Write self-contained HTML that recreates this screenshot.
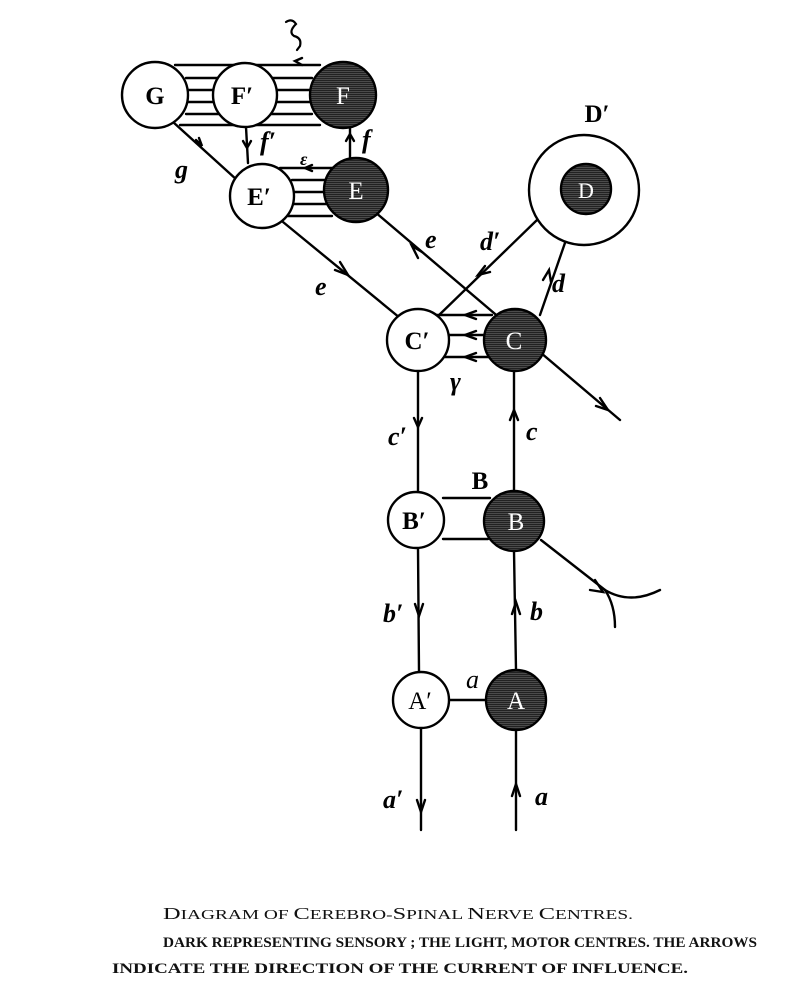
<!DOCTYPE html>
<html><head><meta charset="utf-8"><style>
html,body{margin:0;padding:0;background:#fff;}
svg{display:block;}
</style></head><body>
<svg width="788" height="1000" viewBox="0 0 788 1000" xmlns="http://www.w3.org/2000/svg">
<defs>
<pattern id="h" width="4" height="2" patternUnits="userSpaceOnUse">
<rect width="4" height="2" fill="#222"/><rect y="1" width="4" height="0.6" fill="#666"/>
</pattern>
</defs>
<g stroke="#000" stroke-width="2.4" fill="none" stroke-linecap="round">
<line x1="175" y1="65" x2="320" y2="65"/>
<line x1="186" y1="78" x2="312" y2="78"/>
<line x1="188" y1="90" x2="312" y2="90"/>
<line x1="188" y1="102" x2="312" y2="102"/>
<line x1="186" y1="114" x2="312" y2="114"/>
<line x1="180" y1="125" x2="320" y2="125"/>
<path d="M302 58 L295 61 L302 65"/>
<line x1="246" y1="127" x2="248" y2="163"/>
<path d="M243 141 L247 148 L251 141"/>
<line x1="350" y1="158" x2="350" y2="128"/>
<path d="M346 141 L350 134 L354 141"/>
<line x1="280" y1="168" x2="335" y2="168"/>
<path d="M312 165 L305 168 L312 171"/>
<line x1="292" y1="180" x2="328" y2="180"/>
<line x1="294" y1="192" x2="326" y2="192"/>
<line x1="294" y1="204" x2="326" y2="204"/>
<line x1="288" y1="216" x2="332" y2="216"/>
<line x1="173" y1="122" x2="237" y2="180"/>
<path d="M196 140 L202 146 L199 138"/>
<line x1="283" y1="222" x2="400" y2="318"/>
<path d="M340 262 L348 275 L335 270"/>
<line x1="375" y1="212" x2="620" y2="420"/>
<path d="M422 252 L412 246 L418 258"/>
<path d="M600 398 L608 410 L596 406"/>
<line x1="537" y1="220" x2="436" y2="318"/>
<path d="M485 266 L478 275 L490 272"/>
<line x1="540" y1="315" x2="575" y2="214"/>
<path d="M543 280 L549 270 L551 282"/>
<line x1="436" y1="315" x2="492" y2="315"/>
<line x1="447" y1="335" x2="490" y2="335"/>
<line x1="445" y1="357" x2="492" y2="357"/>
<path d="M476 311 L465 315 L476 319"/>
<path d="M476 331 L465 335 L476 339"/>
<path d="M476 353 L465 357 L476 361"/>
<line x1="418" y1="370" x2="418" y2="492"/>
<path d="M414 418 L418 427 L422 418"/>
<line x1="514" y1="371" x2="514" y2="490"/>
<path d="M510 420 L514 410 L518 420"/>
<line x1="443" y1="498" x2="490" y2="498"/>
<line x1="443" y1="539" x2="488" y2="539"/>
<line x1="418" y1="548" x2="419" y2="672"/>
<path d="M415 604 L419 616 L423 604"/>
<line x1="514" y1="551" x2="516" y2="670"/>
<path d="M512 614 L516 602 L520 614"/>
<line x1="449" y1="700" x2="486" y2="700"/>
<line x1="421" y1="728" x2="421" y2="830"/>
<path d="M417 800 L421 812 L425 800"/>
<line x1="516" y1="730" x2="516" y2="830"/>
<path d="M512 796 L516 784 L520 796"/>
<path d="M541 540 L605 590 Q630 605 660 590"/>
<path d="M595 580 L603 592 L590 590"/>
<path d="M605 590 Q615 605 615 627"/>
<!-- zeta squiggle -->
<path d="M286 22 Q292 18 296 24 Q288 32 294 36 Q302 38 300 46 L297 50" stroke-width="2.2"/>
</g>
<g stroke="#000" stroke-width="2.4">
<circle cx="155" cy="95" r="33" fill="#fff"/>
<circle cx="245" cy="95" r="32" fill="#fff"/>
<circle cx="343" cy="95" r="33" fill="url(#h)"/>
<circle cx="262" cy="196" r="32" fill="#fff"/>
<circle cx="356" cy="190" r="32" fill="url(#h)"/>
<circle cx="584" cy="190" r="55" fill="#fff"/>
<circle cx="586" cy="189" r="25" fill="url(#h)"/>
<circle cx="418" cy="340" r="31" fill="#fff"/>
<circle cx="515" cy="340" r="31" fill="url(#h)"/>
<circle cx="416" cy="520" r="28" fill="#fff"/>
<circle cx="514" cy="521" r="30" fill="url(#h)"/>
<circle cx="421" cy="700" r="28" fill="#fff"/>
<circle cx="516" cy="700" r="30" fill="url(#h)"/>
</g>
<g font-family="Liberation Serif, serif" font-size="25" font-weight="bold" text-anchor="middle">
<text x="155" y="104">G</text>
<text x="242" y="104">F′</text>
<text x="343" y="104" fill="#fff" font-weight="normal">F</text>
<text x="259" y="205">E′</text>
<text x="356" y="199" fill="#fff" font-weight="normal">E</text>
<text x="597" y="122">D′</text>
<text x="586" y="198" fill="#fff" font-weight="normal" font-size="22">D</text>
<text x="417" y="349">C′</text>
<text x="514" y="349" fill="#fff" font-weight="normal">C</text>
<text x="414" y="529">B′</text>
<text x="480" y="489">B</text>
<text x="516" y="530" fill="#fff" font-weight="normal">B</text>
<text x="420" y="709" font-weight="normal">A′</text>
<text x="516" y="709" fill="#fff" font-weight="normal">A</text>
</g>
<g font-family="Liberation Serif, serif" font-size="26" font-style="italic" font-weight="bold">
<text x="260" y="150">f′</text>
<text x="362" y="148">f</text>
<text x="300" y="165" font-size="18">ε</text>
<text x="175" y="178">g</text>
<text x="425" y="248">e</text>
<text x="315" y="295">e</text>
<text x="480" y="250">d′</text>
<text x="552" y="292">d</text>
<text x="450" y="390">γ</text>
<text x="388" y="445">c′</text>
<text x="526" y="440">c</text>
<text x="383" y="622">b′</text>
<text x="530" y="620">b</text>
<text x="466" y="688" font-weight="normal">a</text>
<text x="383" y="808">a′</text>
<text x="535" y="805">a</text>
</g>
<g font-family="Liberation Serif, serif" fill="#111">
<text x="163" y="919" font-size="17" textLength="470" lengthAdjust="spacingAndGlyphs">D<tspan font-size="13.5">IAGRAM OF </tspan>C<tspan font-size="13.5">EREBRO-</tspan>S<tspan font-size="13.5">PINAL </tspan>N<tspan font-size="13.5">ERVE </tspan>C<tspan font-size="13.5">ENTRES.</tspan></text>
<text x="163" y="947" font-size="14.5" font-weight="bold" textLength="594" lengthAdjust="spacingAndGlyphs">DARK REPRESENTING SENSORY ; THE LIGHT, MOTOR CENTRES.   THE ARROWS</text>
<text x="112" y="973" font-size="14.5" font-weight="bold" textLength="576" lengthAdjust="spacingAndGlyphs">INDICATE THE DIRECTION OF THE CURRENT OF INFLUENCE.</text>
</g>
</svg>
</body></html>
